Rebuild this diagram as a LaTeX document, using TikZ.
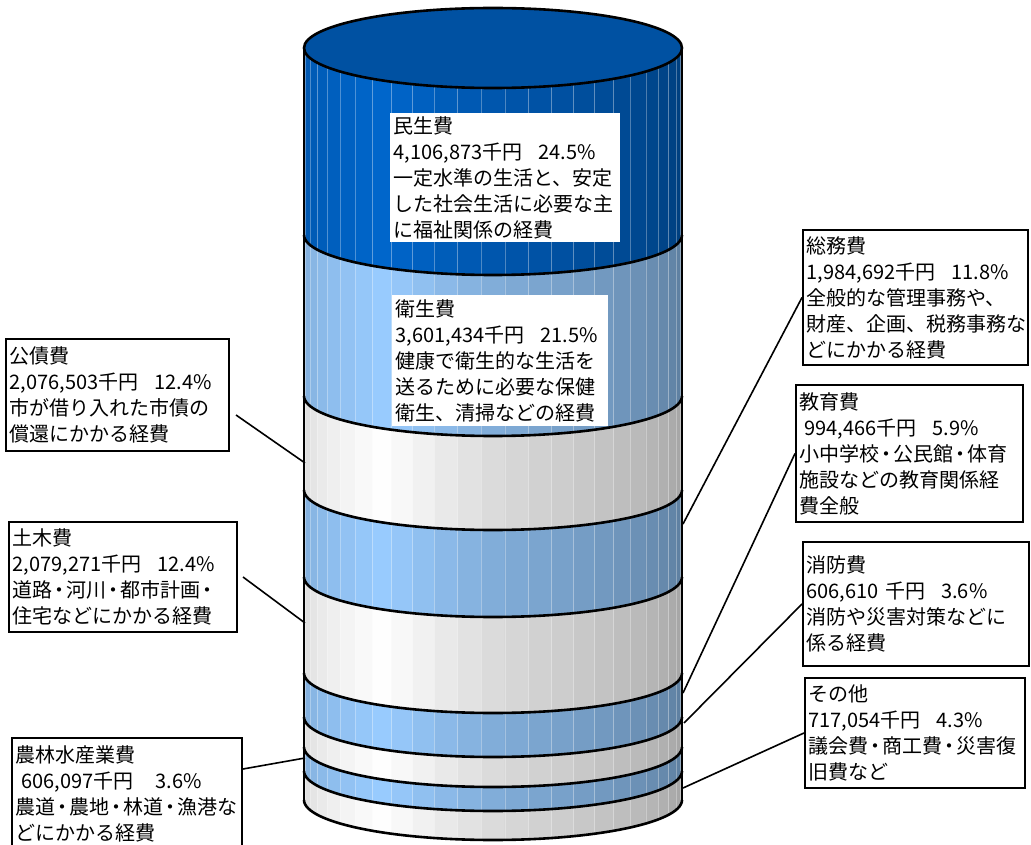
\documentclass[tikz,border=0pt]{standalone}
\usepackage{fontspec}
\newfontfamily\jpfont{Noto Sans CJK JP}
\usetikzlibrary{calc}

\definecolor{deepB}{HTML}{0066CC}
\definecolor{deepD}{HTML}{003D7A}
\definecolor{paleB}{HTML}{99CCFF}
\definecolor{paleD}{HTML}{5B7B9B}
\definecolor{greyB}{HTML}{FFFFFF}
\definecolor{greyD}{HTML}{A0A0A0}
\definecolor{lidblue}{HTML}{0051A2}

\newcommand{\cylx}{493}
\newcommand{\cylrx}{189}
\newcommand{\cylry}{40}
\newcommand{\numgap}{\hspace{16pt}}
\newcommand{\nd}{\kern-3pt・\kern-3pt}

% one band of the cylinder, cut into 25 shaded facets
\newcommand{\cylband}[4]{%
  \foreach \i in {0,...,24}{%
    \pgfmathsetmacro{\facA}{\i*7.2}%
    \pgfmathsetmacro{\facB}{\facA+7.2}%
    \pgfmathsetmacro{\facM}{\facA+3.6}%
    \pgfmathtruncatemacro{\facP}{\facM<55 ? 60+40*\facM/55 : (\facM<90 ? 100-38*(\facM-55)/35 : 62*(180-\facM)/90)}%
    \filldraw[fill=#3!\facP!#4, draw=#3!\facP!#4, line width=0.3pt]
      ({\cylx-\cylrx*cos(\facA)},{#1+\cylry*sin(\facA)}) -- ({\cylx-\cylrx*cos(\facB)},{#1+\cylry*sin(\facB)})
      -- ({\cylx-\cylrx*cos(\facB)},{#2+\cylry*sin(\facB)}) -- ({\cylx-\cylrx*cos(\facA)},{#2+\cylry*sin(\facA)}) -- cycle;
    \draw[white, opacity=0.3, line width=0.7pt]
      ({\cylx-\cylrx*cos(\facA)},{#1+\cylry*sin(\facA)}) -- ({\cylx-\cylrx*cos(\facA)},{#2+\cylry*sin(\facA)});
  }}

\tikzset{
  lblbox/.style={draw, line width=2pt, fill=white, align=left, inner xsep=3.5pt, inner ysep=3pt,
    font=\jpfont\fontsize{20pt}{26pt}\selectfont},
  inbox/.style={lblbox, draw=none},
  leader/.style={line width=1.6pt}
}

\begin{document}
\begin{tikzpicture}[x=1pt, y=-1pt]
\useasboundingbox (0,0) rectangle (1031,845);
\clip (0,0) rectangle (1031,845);

\cylband{48}{235}{deepB}{deepD}
\cylband{235}{396}{paleB}{paleD}
\cylband{396}{490}{greyB}{greyD}
\cylband{490}{577}{paleB}{paleD}
\cylband{577}{673}{greyB}{greyD}
\cylband{673}{717}{paleB}{paleD}
\cylband{717}{747}{greyB}{greyD}
\cylband{747}{771}{paleB}{paleD}
\cylband{771}{800}{greyB}{greyD}

\filldraw[fill=lidblue, draw=black, line width=2.6pt] (\cylx,48) ellipse [x radius=\cylrx, y radius=\cylry];
\foreach \y in {235,396,490,577,673,717,747,771,800}
  \draw[line width=2.6pt] plot[domain=0:180, samples=61] ({\cylx-\cylrx*cos(\x)},{\y+\cylry*sin(\x)});
\draw[line width=2.6pt] (304,48) -- (304,800);
\draw[line width=2.6pt] (682,48) -- (682,800);

\node[inbox, text width=223pt, minimum height=129pt] (minsei) at (505,177.5)
  {民生費\\4,106,873千円\numgap 24.5\%\\一定水準の生活と、安定\\した社会生活に必要な主\\に福祉関係の経費};
\node[inbox, text width=209pt, minimum height=131pt] (eisei) at (500,360.5)
  {衛生費\\3,601,434千円\numgap 21.5\%\\健康で衛生的な生活を\\送るために必要な保健\\衛生、清掃などの経費};

\node[lblbox, text width=216pt, minimum height=112pt] (kousai) at (117.5,395)
  {公債費\\2,076,503千円\numgap 12.4\%\\市が借り入れた市債の\\償還にかかる経費};
\node[lblbox, text width=221pt, minimum height=110pt] (doboku) at (123,577)
  {土木費\\2,079,271千円\numgap 12.4\%\\道路\nd 河川\nd 都市計画\nd\\住宅などにかかる経費};
\node[lblbox, text width=223pt, minimum height=112pt] (nourin) at (127,794)
  {農林水産業費\\\hspace*{6pt}606,097千円\hspace{22pt}3.6\%\\農道\nd 農地\nd 林道\nd 漁港な\\どにかかる経費};

\node[lblbox, text width=218pt, minimum height=135pt] (soumu) at (915.5,297.5)
  {総務費\\1,984,692千円\numgap 11.8\%\\全般的な管理事務や、\\財産、企画、税務事務な\\どにかかる経費};
\node[lblbox, text width=220pt, minimum height=137pt] (kyouiku) at (909.5,453.5)
  {教育費\\\hspace*{5pt}994,466千円\numgap 5.9\%\\小中学校\nd 公民館\nd 体育\\施設などの教育関係経\\費全般};
\node[lblbox, text width=219pt, minimum height=124pt] (shoubou) at (916,604)
  {消防費\\606,610 千円\numgap 3.6\%\\消防や災害対策などに\\係る経費};
\node[lblbox, text width=213pt, minimum height=110pt] (sonota) at (915,733)
  {その他\\717,054千円\numgap 4.3\%\\議会費\nd 商工費\nd 災害復\\旧費など};

\coordinate (kousaiP) at (305,463);
\coordinate (dobokuP) at (305,623);
\coordinate (nourinP) at (305,758);
\coordinate (soumuP) at (683,524);
\coordinate (kyouikuP) at (683,693);
\coordinate (shoubouP) at (684,723);
\coordinate (sonotaP) at (683,788);

\draw[leader] ($(kousai.east)+(6,20)$) -- (kousaiP);
\draw[leader] ($(doboku.east)+(5,0)$) -- (dobokuP);
\draw[leader] ($(nourin.east)+(0,-25)$) -- (nourinP);
\draw[leader] (soumu.west) -- (soumuP);
\draw[leader] (kyouiku.west) -- (kyouikuP);
\draw[leader] (shoubou.west) -- (shoubouP);
\draw[leader] (sonota.west) -- (sonotaP);
\end{tikzpicture}
\end{document}
